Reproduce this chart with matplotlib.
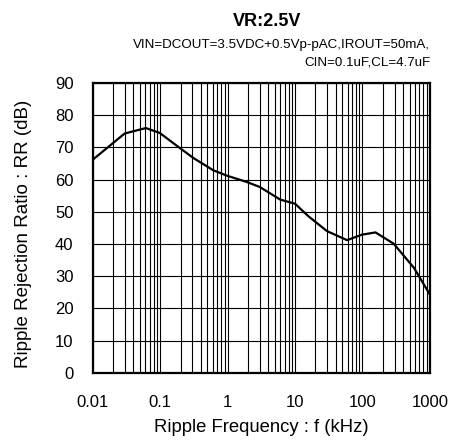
import numpy as np
import matplotlib.pyplot as plt
from matplotlib.ticker import FixedLocator, LogLocator, NullFormatter

plt.rcParams['font.family'] = ['Liberation Sans', 'DejaVu Sans']

# === Daten ===
freq_khz = [0.01, 0.0296, 0.061, 0.098, 0.195, 0.31, 0.61, 0.98, 1.9, 3.0,
            6.0, 10, 15.8, 29.8, 59, 98, 156, 290, 580, 1000]
rr_db = [66.2, 74.3, 76.0, 74.5, 69.8, 66.7, 62.9, 61.2, 59.3, 57.7,
         53.8, 52.5, 48.6, 44.0, 41.2, 42.9, 43.6, 40.1, 32.6, 24.3]
x_ticks = [0.01, 0.1, 1, 10, 100, 1000]
x_labels = ["0.01", "0.1", "1", "10", "100", "1000"]
y_ticks = list(range(0, 100, 10))

fig = plt.figure(figsize=(4.53, 4.46), dpi=100)
ax = fig.add_axes([0.205, 0.164, 0.744, 0.650])

ax.plot(freq_khz, rr_db, color='black', lw=1.6, zorder=3)
ax.set_xscale('log')
ax.set_xlim(0.01, 1000)
ax.set_ylim(0, 90)

ax.xaxis.set_major_locator(FixedLocator(x_ticks))
ax.set_xticklabels(x_labels)
ax.xaxis.set_minor_locator(LogLocator(base=10, subs=np.arange(2, 10)))
ax.xaxis.set_minor_formatter(NullFormatter())
ax.set_yticks(y_ticks)

ax.grid(True, which='both', axis='x', color='black', lw=0.8)
ax.grid(True, which='major', axis='y', color='black', lw=0.8)
ax.tick_params(which='both', length=0, labelsize=12)
ax.tick_params(axis='x', pad=16)
ax.tick_params(axis='y', pad=14)

for s in ax.spines.values():
    s.set_linewidth(1.6)

ax.set_xlabel("Ripple Frequency : f (kHz)", fontsize=13.3)
ax.set_ylabel("Ripple Rejection Ratio : RR (dB)", fontsize=13.5)
ax.xaxis.set_label_coords(0.5, -0.19)
ax.yaxis.set_label_coords(-0.205, 0.48)
ax.xaxis.label.set_va('center')
ax.yaxis.label.set_va('center')

fig.text(0.589, 0.952, "VR:2.5V", fontsize=13, fontweight='bold', ha='center', va='center')
fig.text(0.950, 0.899, "VIN=DCOUT=3.5VDC+0.5Vp-pAC,IROUT=50mA,", fontsize=9.6,
         ha='right', va='center')
fig.text(0.950, 0.859, "CIN=0.1uF,CL=4.7uF", fontsize=9.6, ha='right', va='center')

fig.savefig("out.png", dpi=100)
